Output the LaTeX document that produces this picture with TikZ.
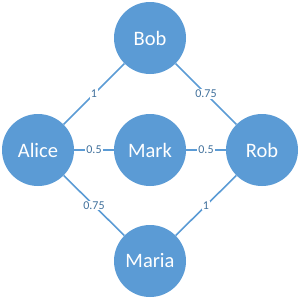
\documentclass[tikz,border=0pt]{standalone}
\usepackage{fontspec}
\setmainfont{Carlito}
\definecolor{nodeblue}{HTML}{5B9BD5}
\definecolor{edgeblue}{HTML}{5B9BD5}
\definecolor{labelblue}{HTML}{41719C}
\begin{document}
\begin{tikzpicture}[x=1pt,y=-1pt,
  person/.style={circle,fill=nodeblue,draw=none,minimum size=72pt,inner sep=0pt,text=white,font=\fontsize{20.5}{24}\selectfont},
  link/.style={draw=edgeblue,line width=1.6pt},
  wlabel/.style={fill=white,inner sep=1pt,text=labelblue,font=\fontsize{12}{14}\selectfont}]
\useasboundingbox (0,0) rectangle (300,300);
\node[person] (bob) at (150,38) {Bob};
\node[person] (alice) at (38,150) {Alice};
\node[person] (mark) at (150,150) {Mark};
\node[person] (rob) at (262,150) {Rob};
\node[person] (maria) at (150,261) {Maria};
\path[link] (bob) -- node[wlabel]{1} (alice);
\path[link] (bob) -- node[wlabel]{0.75} (rob);
\path[link] (alice) -- node[wlabel]{0.5} (mark);
\path[link] (mark) -- node[wlabel]{0.5} (rob);
\path[link] (alice) -- node[wlabel]{0.75} (maria);
\path[link] (rob) -- node[wlabel]{1} (maria);
\end{tikzpicture}
\end{document}
